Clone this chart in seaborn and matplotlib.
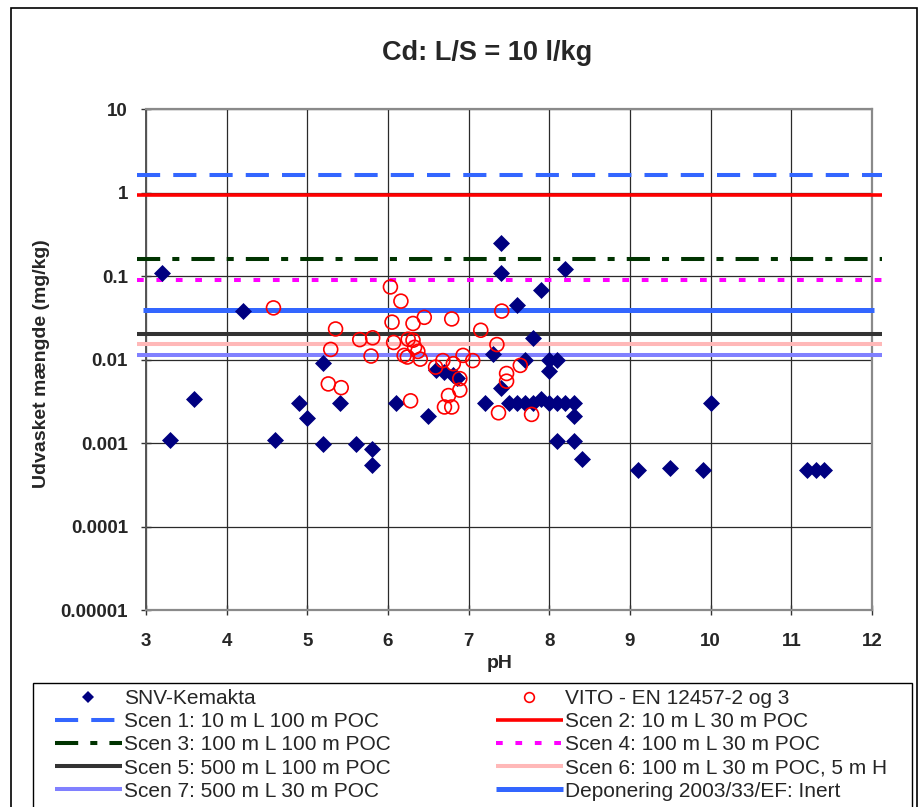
import matplotlib
matplotlib.use("Agg")
import matplotlib.pyplot as plt
import matplotlib.ticker as mticker
from matplotlib.lines import Line2D
from matplotlib.patches import Rectangle
import seaborn as sns

# SNV-Kemakta leaching results (pH, Cd mg/kg)
snv_ph = [3.2, 3.3, 3.6, 4.2, 4.6, 4.9, 5.0, 5.2, 5.2, 5.4, 5.6, 5.8, 5.8,
          6.1, 6.5, 6.6, 6.7, 6.8, 6.85, 7.2, 7.3, 7.4, 7.4, 7.4, 7.5, 7.6,
          7.6, 7.7, 7.7, 7.8, 7.8, 7.9, 7.9, 8.0, 8.0, 8.0, 8.1, 8.1, 8.1,
          8.2, 8.2, 8.3, 8.3, 8.3, 8.4, 9.1, 9.5, 9.9, 10.0, 11.2, 11.3, 11.4]
snv_cd = [0.11, 0.0011, 0.0034, 0.038, 0.0011, 0.003, 0.002, 0.00098, 0.009,
          0.003, 0.00098, 0.00085, 0.00054, 0.003, 0.0021, 0.0075, 0.007,
          0.0065, 0.006, 0.003, 0.0115, 0.25, 0.11, 0.0045, 0.003, 0.003,
          0.045, 0.003, 0.01, 0.003, 0.018, 0.0034, 0.068, 0.003, 0.01,
          0.0072, 0.003, 0.01, 0.00105, 0.003, 0.12, 0.003, 0.0021, 0.00105,
          0.00065, 0.00048, 0.0005, 0.00048, 0.003, 0.00048, 0.00048, 0.00048]

# VITO results (pH, Cd mg/kg)
vito_ph = [4.58, 5.26, 5.29, 5.35, 5.42, 5.65, 5.79, 5.81, 6.03, 6.05, 6.07,
           6.16, 6.20, 6.24, 6.25, 6.28, 6.31, 6.31, 6.33, 6.37, 6.40, 6.45,
           6.59, 6.68, 6.70, 6.75, 6.79, 6.79, 6.81, 6.89, 6.89, 6.93, 7.05,
           7.15, 7.35, 7.37, 7.41, 7.47, 7.47, 7.64, 7.78]
vito_cd = [0.0415, 0.0051, 0.0132, 0.0232, 0.0046, 0.0173, 0.011, 0.0182,
           0.074, 0.028, 0.016, 0.05, 0.0112, 0.0107, 0.0175, 0.0032, 0.027,
           0.017, 0.014, 0.0125, 0.0101, 0.032, 0.0081, 0.0097, 0.0027,
           0.0037, 0.0306, 0.0027, 0.0089, 0.0059, 0.0043, 0.0112, 0.0097,
           0.0224, 0.0151, 0.0023, 0.038, 0.0068, 0.0055, 0.0085, 0.0022]

# Scenario limit values (mg/kg)
scen_labels = ["Scen 1: 10 m L 100 m POC", "Scen 2: 10 m L 30 m POC",
               "Scen 3: 100 m L 100 m POC", "Scen 4: 100 m L 30 m POC",
               "Scen 5: 500 m L 100 m POC", "Scen 6: 100 m L 30 m POC, 5 m H",
               "Scen 7: 500 m L 30 m POC", "Deponering 2003/33/EF: Inert"]
scen_values = [1.6, 0.93, 0.16, 0.09, 0.0202, 0.0153, 0.0112, 0.039]

x_ticks = [3, 4, 5, 6, 7, 8, 9, 10, 11, 12]
y_ticks = [1e-5, 1e-4, 1e-3, 1e-2, 1e-1, 1, 10]
y_tick_labels = ["0.00001", "0.0001", "0.001", "0.01", "0.1", "1", "10"]

line_styles = [
    dict(color="#3366FF", lw=2.9, ls=(0, (5.75, 3.25))),
    dict(color="#FF0000", lw=2.6, ls="-"),
    dict(color="#003300", lw=2.9, ls=(0, (5.76, 3.0, 1.75, 3.0))),
    dict(color="#FF00FF", lw=2.9, ls=(0, (1.67, 3.15))),
    dict(color="#333333", lw=2.9, ls="-"),
    dict(color="#FFB8B8", lw=2.9, ls="-"),
    dict(color="#8080FF", lw=2.9, ls="-"),
    dict(color="#3366FF", lw=3.6, ls="-"),
]

sns.set_theme(style="white")
plt.rcParams["font.family"] = ["Liberation Sans", "DejaVu Sans"]

W, H = 922, 807
fig = plt.figure(figsize=(W / 100, H / 100), dpi=100)
fig.patch.set_facecolor("white")
ax = fig.add_axes([146 / W, 1 - 610 / H, 726 / W, 501 / H])
ax.set_facecolor("white")

# horizontal scenario lines, slightly wider than the plot area
for i, (val, st) in enumerate(zip(scen_values, line_styles)):
    x0, x1 = (2.96, 12.02) if i == 7 else (2.89, 12.13)
    ax.plot([x0, x1], [val, val], color=st["color"], lw=st["lw"],
            linestyle=st["ls"], solid_capstyle="butt", clip_on=False, zorder=3)

sns.scatterplot(x=snv_ph, y=snv_cd, marker="D", s=75, color="#000080",
                linewidth=0, ax=ax, zorder=5, legend=False)
sns.scatterplot(x=vito_ph, y=vito_cd, marker="o", s=100, facecolor="none",
                edgecolor="#FF0000", linewidth=1.2, ax=ax, zorder=6,
                legend=False)

ax.set_yscale("log")
ax.set_xlim(3, 12)
ax.set_ylim(1e-5, 10)
ax.set_xticks(x_ticks)
ax.set_xticklabels([str(t) for t in x_ticks], fontsize=13.5, fontweight="bold")
ax.set_yticks(y_ticks)
ax.set_yticklabels(y_tick_labels, fontsize=13.5, fontweight="bold")
ax.yaxis.set_minor_locator(mticker.NullLocator())
ax.tick_params(axis="y", direction="inout", length=7, width=1, color="#333333",
               pad=9.4, left=True)
ax.tick_params(axis="x", direction="inout", length=7, width=1, color="#333333",
               pad=13, bottom=True)
ax.grid(True, which="major", color="#2a2a2a", lw=0.9)
ax.set_axisbelow(True)
for side in ["top", "right", "bottom"]:
    ax.spines[side].set_color("#8a8a8a")
    ax.spines[side].set_linewidth(1.6)
ax.spines["left"].set_color("#555555")
ax.spines["left"].set_linewidth(1.4)

ax.set_xlabel("pH", fontsize=14, fontweight="bold")
ax.xaxis.set_label_coords((500 - 146) / 726, (610 - 655) / 501)
ax.set_ylabel("Udvasket mængde (mg/kg)", fontsize=14, fontweight="bold")
ax.yaxis.set_label_coords((50 - 146) / 726, (610 - 364) / 501)

fig.text(487 / W, 1 - 53 / H, "Cd: L/S = 10 l/kg", ha="center", va="center",
         fontsize=19.5, fontweight="bold")

# legend entries
def line_handle(st):
    return Line2D([], [], color=st["color"], lw=st["lw"], linestyle=st["ls"],
                  solid_capstyle="butt")

h_snv = Line2D([], [], ls="none", marker="D", ms=6, color="#000080", mew=0)
h_vito = Line2D([], [], ls="none", marker="o", ms=7, mfc="none",
                mec="#FF0000", mew=1.2)
col1_h = [h_snv] + [line_handle(line_styles[i]) for i in (0, 2, 4, 6)]
col1_l = ["SNV-Kemakta"] + [scen_labels[i] for i in (0, 2, 4, 6)]
col2_h = [h_vito] + [line_handle(line_styles[i]) for i in (1, 3, 5, 7)]
col2_l = ["VITO - EN 12457-2 og 3"] + [scen_labels[i] for i in (1, 3, 5, 7)]

common = dict(loc="upper left", frameon=False, borderpad=0, borderaxespad=0,
              handlelength=3.2, handletextpad=0.12, labelspacing=0.2,
              fontsize=15)
fig.legend(col1_h, col1_l, bbox_to_anchor=(55 / W, 1 - 689 / H), **common)
fig.legend(col2_h, col2_l, bbox_to_anchor=(496 / W, 1 - 689 / H), **common)

# chart and legend frames
fig.add_artist(Rectangle((11 / W, -0.05), (917 - 11) / W, 1 - 8 / H + 0.05,
                         transform=fig.transFigure, fill=False,
                         ec="black", lw=1.2))
fig.add_artist(Rectangle((33 / W, -0.05), (912 - 33) / W, 1 - 683 / H + 0.05,
                         transform=fig.transFigure, fill=False,
                         ec="black", lw=1.0))

fig.savefig("out.png", dpi=100)
